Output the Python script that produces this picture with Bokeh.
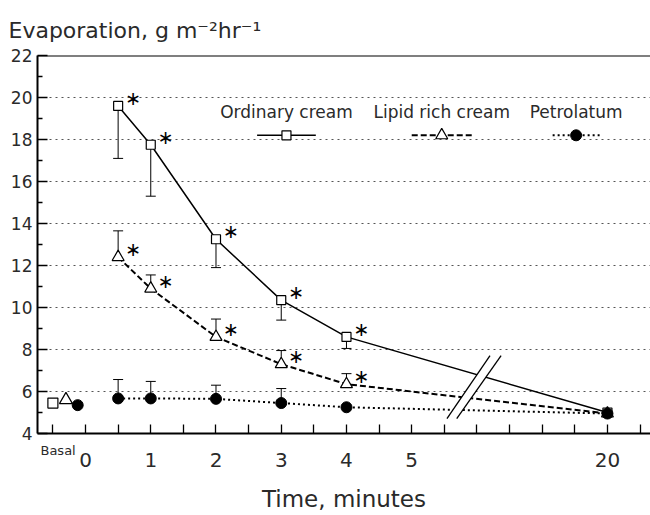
import numpy as np
from bokeh.plotting import figure
from bokeh.models import (ColumnDataSource, Whisker, TeeHead, FixedTicker, Span,
                          Label, Range1d, LinearAxis)
from bokeh.core.properties import value
from bokeh.embed import file_html
from bokeh.resources import INLINE

# ---------------- data ----------------
times = [0.5, 1, 2, 3, 4, 20]              # minutes
ordinary = [19.6, 17.75, 13.25, 10.35, 8.6, 5.0]
ordinary_lower = [17.1, 15.3, 11.9, 9.4, 8.05]
lipid = [12.4, 10.9, 8.6, 7.3, 6.35, 4.95]
lipid_upper = [13.65, 11.55, 9.45, 7.95, 6.85]
petro = [5.67, 5.67, 5.65, 5.45, 5.25, 4.95]
petro_upper = [6.57, 6.48, 6.3, 6.14]
basal_values = [5.45, 5.6, 5.35]          # ordinary, lipid, petrolatum
series_names = ["Ordinary cream", "Lipid rich cream", "Petrolatum"]
x_tick_values = [0, 1, 2, 3, 4, 5, 20]
y_tick_values = [4, 6, 8, 10, 12, 14, 16, 18, 20, 22]
basal_label = "Basal"

# ---------------- broken time axis ----------------
BREAK_TIME, BREAK_POS = 20, 8.0
BASAL_POS = [-0.5, -0.3, -0.12]
BASAL_LABEL_POS = -0.42


def xpos(t):
    return BREAK_POS if t >= BREAK_TIME else t


xs = [xpos(t) for t in times]
FONT = "DejaVu Sans"
TXT = "#2a2a2a"

p = figure(width=650, height=515, x_range=Range1d(-0.736, 8.66), y_range=Range1d(4, 22),
           output_backend="svg", toolbar_location=None, x_axis_location=None,
           min_border_left=37, min_border_right=0, min_border_top=55, min_border_bottom=82)
p.outline_line_color = None
p.background_fill_color = "white"
p.border_fill_color = "white"

p.title.text = "Evaporation, g m\u207b\u00b2hr\u207b\u00b9"
p.title.text_font = FONT
p.title.text_font_size = "22px"
p.title.text_font_style = "normal"
p.title.text_color = TXT
p.title.align = "left"
p.title.offset = -29
p.title.standoff = 25

# x axis, part 1: axis line, all half-minute ticks and the "Basal" label
half_minutes = list(np.arange(-0.5, 9.0, 0.5))
ax_b = LinearAxis(ticker=FixedTicker(ticks=[BASAL_LABEL_POS], minor_ticks=half_minutes),
                  major_label_overrides={BASAL_LABEL_POS: basal_label})
ax_b.axis_line_width = 2
ax_b.major_tick_in = 0
ax_b.major_tick_out = 0
ax_b.minor_tick_in = 9
ax_b.minor_tick_out = 0
ax_b.minor_tick_line_width = 1.3
ax_b.major_label_text_font = FONT
ax_b.major_label_text_font_size = "13px"
ax_b.major_label_text_color = TXT
ax_b.major_label_standoff = 9
p.add_layout(ax_b, "below")

# x axis, part 2: minute labels and axis title
ax_t = LinearAxis(ticker=FixedTicker(ticks=[xpos(t) for t in x_tick_values]),
                  major_label_overrides={xpos(t): str(t) for t in x_tick_values})
ax_t.axis_line_color = None
ax_t.major_tick_line_color = None
ax_t.minor_tick_line_color = None
ax_t.major_tick_in = 0
ax_t.major_tick_out = 0
ax_t.major_label_text_font = FONT
ax_t.major_label_text_font_size = "20px"
ax_t.major_label_text_color = TXT
ax_t.major_label_standoff = -8
ax_t.axis_label = "Time, minutes"
ax_t.axis_label_text_font = FONT
ax_t.axis_label_text_font_size = "23px"
ax_t.axis_label_text_font_style = "normal"
ax_t.axis_label_text_color = TXT
ax_t.axis_label_standoff = 16
p.add_layout(ax_t, "below")

# y axis
p.yaxis.ticker = FixedTicker(ticks=y_tick_values, minor_ticks=list(range(5, 22, 2)))
p.yaxis.axis_line_width = 2
p.yaxis.major_tick_in = 10
p.yaxis.major_tick_out = 0
p.yaxis.minor_tick_in = 5
p.yaxis.minor_tick_out = 0
p.yaxis.major_tick_line_width = 1.3
p.yaxis.minor_tick_line_width = 1.3
p.yaxis.major_label_text_font = FONT
p.yaxis.major_label_text_font_size = "17px"
p.yaxis.major_label_text_color = TXT
p.yaxis.major_label_standoff = 5

p.xgrid.visible = False
p.ygrid.ticker = FixedTicker(ticks=y_tick_values[1:-1])
p.ygrid.grid_line_color = "#555555"
p.ygrid.grid_line_dash = "2 4"
p.ygrid.grid_line_width = 1

p.add_layout(Span(location=y_tick_values[-1], dimension="width", line_color="black", line_width=2))

# ---------------- lines ----------------
p.line(xs, ordinary, line_color="black", line_width=1.5)
p.line(xs, lipid, line_color="black", line_width=2, line_dash="6 3")
p.line(xs, petro, line_color="black", line_width=2, line_dash="2 3")

# axis break marks
BRK_X1 = [5.54, 6.20]
BRK_X2 = [5.69, 6.37]
BRK_Y = [4.71, 7.71]
p.patch([BRK_X1[0], BRK_X1[1], BRK_X2[1], BRK_X2[0]], [BRK_Y[0], BRK_Y[1], BRK_Y[1], BRK_Y[0]],
        fill_color="white", line_color=None)
p.line(BRK_X1, BRK_Y, line_color="black", line_width=1.3)
p.line(BRK_X2, BRK_Y, line_color="black", line_width=1.3)

# ---------------- error bars ----------------
n = len(ordinary_lower)
src_o = ColumnDataSource(dict(x=xs[:n], lo=ordinary_lower, hi=ordinary[:n]))
p.add_layout(Whisker(source=src_o, base="x", lower="lo", upper="hi", dimension="height",
                     line_color="black", line_width=1, upper_head=None,
                     lower_head=TeeHead(size=10, line_width=1, line_color="black"),
                     level="underlay"))
src_l = ColumnDataSource(dict(x=xs[:n], lo=lipid[:n], hi=lipid_upper))
p.add_layout(Whisker(source=src_l, base="x", lower="lo", upper="hi", dimension="height",
                     line_color="black", line_width=1, lower_head=None,
                     upper_head=TeeHead(size=10, line_width=1, line_color="black"),
                     level="underlay"))
m = len(petro_upper)
src_p = ColumnDataSource(dict(x=xs[:m], lo=petro[:m], hi=petro_upper))
p.add_layout(Whisker(source=src_p, base="x", lower="lo", upper="hi", dimension="height",
                     line_color="black", line_width=1, lower_head=None,
                     upper_head=TeeHead(size=10, line_width=1, line_color="black"),
                     level="underlay"))

# ---------------- markers ----------------
p.scatter(xs, ordinary, marker="square", size=9, fill_color="white", line_color="black", line_width=1.2)
p.scatter(xs, lipid, marker="triangle", size=12, fill_color="white", line_color="black", line_width=1.2)
p.scatter(xs, petro, marker="circle", size=11, fill_color="black", line_color="black")

# basal values
p.scatter([BASAL_POS[0]], [basal_values[0]], marker="square", size=10, fill_color="white",
          line_color="black", line_width=1.2)
p.scatter([BASAL_POS[1]], [basal_values[1]], marker="triangle", size=13, fill_color="white",
          line_color="black", line_width=1.2)
p.scatter([BASAL_POS[2]], [basal_values[2]], marker="circle", size=11, fill_color="black",
          line_color="black")

# significance asterisks
star_x = xs[:n] + xs[:n]
star_y = ordinary[:n] + lipid[:n]
p.text(star_x, star_y, text=["\u2217"] * len(star_x), x_offset=15, y_offset=-8,
       text_font=value(FONT), text_font_size="19px", text_align="center",
       text_baseline="middle", text_color="black")

# ---------------- legend (custom: label above sample) ----------------
LEG_TEXT_Y = 19.29
LEG_SAMPLE_Y = 18.2
LEG_CENTERS = [3.08, 5.46, 7.52]
LEG_HALF = [0.45, 0.46, 0.36]
for name, cx in zip(series_names, LEG_CENTERS):
    p.add_layout(Label(x=cx, y=LEG_TEXT_Y, text=name, text_font=FONT, text_font_size="17px",
                       text_color=TXT, text_align="center", text_baseline="middle"))
p.line([LEG_CENTERS[0] - LEG_HALF[0], LEG_CENTERS[0] + LEG_HALF[0]], [LEG_SAMPLE_Y] * 2,
       line_color="black", line_width=1.5)
p.scatter([LEG_CENTERS[0]], [LEG_SAMPLE_Y], marker="square", size=9, fill_color="white",
          line_color="black", line_width=1.2)
p.line([LEG_CENTERS[1] - LEG_HALF[1], LEG_CENTERS[1] + LEG_HALF[1]], [LEG_SAMPLE_Y] * 2,
       line_color="black", line_width=2, line_dash="6 3")
p.scatter([LEG_CENTERS[1]], [LEG_SAMPLE_Y], marker="triangle", size=12, fill_color="white",
          line_color="black", line_width=1.2)
p.line([LEG_CENTERS[2] - LEG_HALF[2], LEG_CENTERS[2] + LEG_HALF[2]], [LEG_SAMPLE_Y] * 2,
       line_color="black", line_width=2, line_dash="2 3")
p.scatter([LEG_CENTERS[2]], [LEG_SAMPLE_Y], marker="circle", size=11, fill_color="black",
          line_color="black")

open("out.html", "w").write(file_html(p, INLINE))
